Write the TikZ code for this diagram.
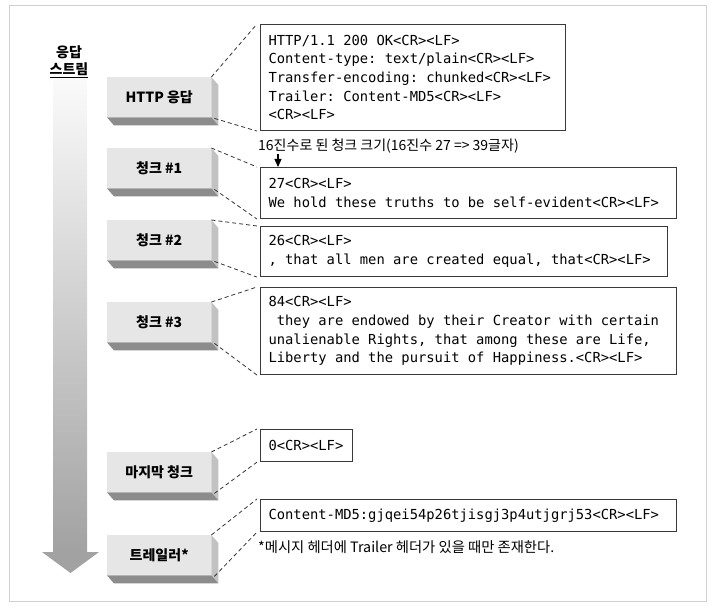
\documentclass[tikz,border=0pt]{standalone}
\usepackage{fontspec}
\setmainfont{Noto Sans CJK KR}
\newfontfamily\mono{DejaVu Sans Mono}
\newcommand\monobox{\mono\fontsize{13.8}{18.7}\selectfont}
\newcommand\monospaces{\spaceskip8.31pt\relax\xspaceskip8.31pt\relax}
\usetikzlibrary{arrows.meta,calc}
\definecolor{framecol}{HTML}{CFCFCF}
\definecolor{facecol}{HTML}{E6E6E6}
\definecolor{sidecol}{HTML}{C2C2C2}
\definecolor{botcol}{HTML}{8C8C8C}
\definecolor{boxline}{HTML}{3A3A3A}
\definecolor{shafttop}{HTML}{FAFAFA}
\definecolor{shaftbot}{HTML}{A2A2A2}
\begin{document}
\begin{tikzpicture}[x=1pt,y=-1pt,
  lbox/.style={fill=facecol, minimum width=104pt, minimum height=40pt, inner sep=0pt, anchor=north west,
    font=\bfseries\fontsize{14}{16}\selectfont},
  rbox/.style={draw=boxline, line width=1.1pt, anchor=north west, inner xsep=8pt, inner ysep=0pt, align=left,
    font=\monobox, execute at begin node=\monospaces},
  conn/.style={dashed, dash pattern=on 4pt off 3pt, line width=0.8pt, black!80},
  note/.style={anchor=west, inner sep=0pt, font=\fontsize{14}{16}\selectfont}
]
\useasboundingbox (0,0) rectangle (713,607);
\draw[framecol, line width=1pt] (9,6) rectangle (706,601);

% stream arrow
\node[font=\bfseries\fontsize{14}{18}\selectfont, align=center] (stream) at (69,62) {응답\\[-1pt]\underline{스트림}};
\shade[top color=shafttop, bottom color=shaftbot] (53,80) rectangle (87,552);
\fill[shaftbot] (42,552) -- (99,552) -- (70.5,573) -- cycle;

% left 3D boxes
\newcommand\threed[1]{%
  \fill[sidecol] (#1.north east) -- ++(7,8) -- ($(#1.south east)+(7,8)$) -- (#1.south east) -- cycle;
  \fill[botcol] (#1.south west) -- (#1.south east) -- ++(7,8) -- ($(#1.south west)+(7,8)$) -- cycle;}
\node[lbox] (h) at (107,77) {HTTP 응답};
\node[lbox] (c1) at (107,148) {청크 \#1};
\node[lbox] (c2) at (107,220) {청크 \#2};
\node[lbox] (c3) at (107,302) {청크 \#3};
\node[lbox] (last) at (107,452) {마지막 청크};
\node[lbox] (tr) at (107,535) {트레일러*};
\threed{h}\threed{c1}\threed{c2}\threed{c3}\threed{last}\threed{tr}

% right boxes
\node[rbox, text width=289pt, minimum height=106pt] (rh) at (260,24)
  {HTTP/1.1 200 OK<CR><LF>\\Content-type: text/plain<CR><LF>\\Transfer-encoding: chunked<CR><LF>\\Trailer: Content-MD5<CR><LF>\\<CR><LF>};
\node[rbox, text width=400pt, minimum height=51pt] (rc1) at (260,167)
  {27<CR><LF>\\We hold these truths to be self-evident<CR><LF>};
\node[rbox, text width=391pt, minimum height=50pt] (rc2) at (260,226)
  {26<CR><LF>\\, that all men are created equal, that<CR><LF>};
\node[rbox, text width=400pt, minimum height=87pt] (rc3) at (260,287)
  {84<CR><LF>\\\hphantom{x}they are endowed by their Creator with certain\\unalienable Rights, that among these are Life,\\Liberty and the pursuit of Happiness.<CR><LF>};
\node[rbox, text width=76pt, minimum height=32pt] (rl) at (260,429) {0<CR><LF>};
\node[rbox, text width=400pt, minimum height=32pt] (rt) at (260,499)
  {Content-MD5:gjqei54p26tjisgj3p4utjgrj53<CR><LF>};

% notes
\node[note] (ann) at (258,146) {16진수로 된 청크 크기(16진수 27 => 39글자)};
\node[note, font=\fontsize{14.3}{16}\selectfont] (foot) at (258,547) {*메시지 헤더에 Trailer 헤더가 있을 때만 존재한다.};
\coordinate (annfrom) at ($(rc1.north west)+(18,-13)$);
\draw[line width=1.1pt, -{Triangle[length=8pt,width=7pt]}] (annfrom) -- (rc1.north west -| annfrom);

% dashed connectors
\foreach \l/\r in {h/rh, c1/rc1, c2/rc2, c3/rc3, last/rl, tr/rt}{
  \draw[conn] (\l.north east) -- ($(\r.north west)+(-3,0)$);
  \draw[conn] ($(\l.south east)+(3,1)$) -- ($(\r.south west)+(-3,0)$);
}
\end{tikzpicture}
\end{document}
